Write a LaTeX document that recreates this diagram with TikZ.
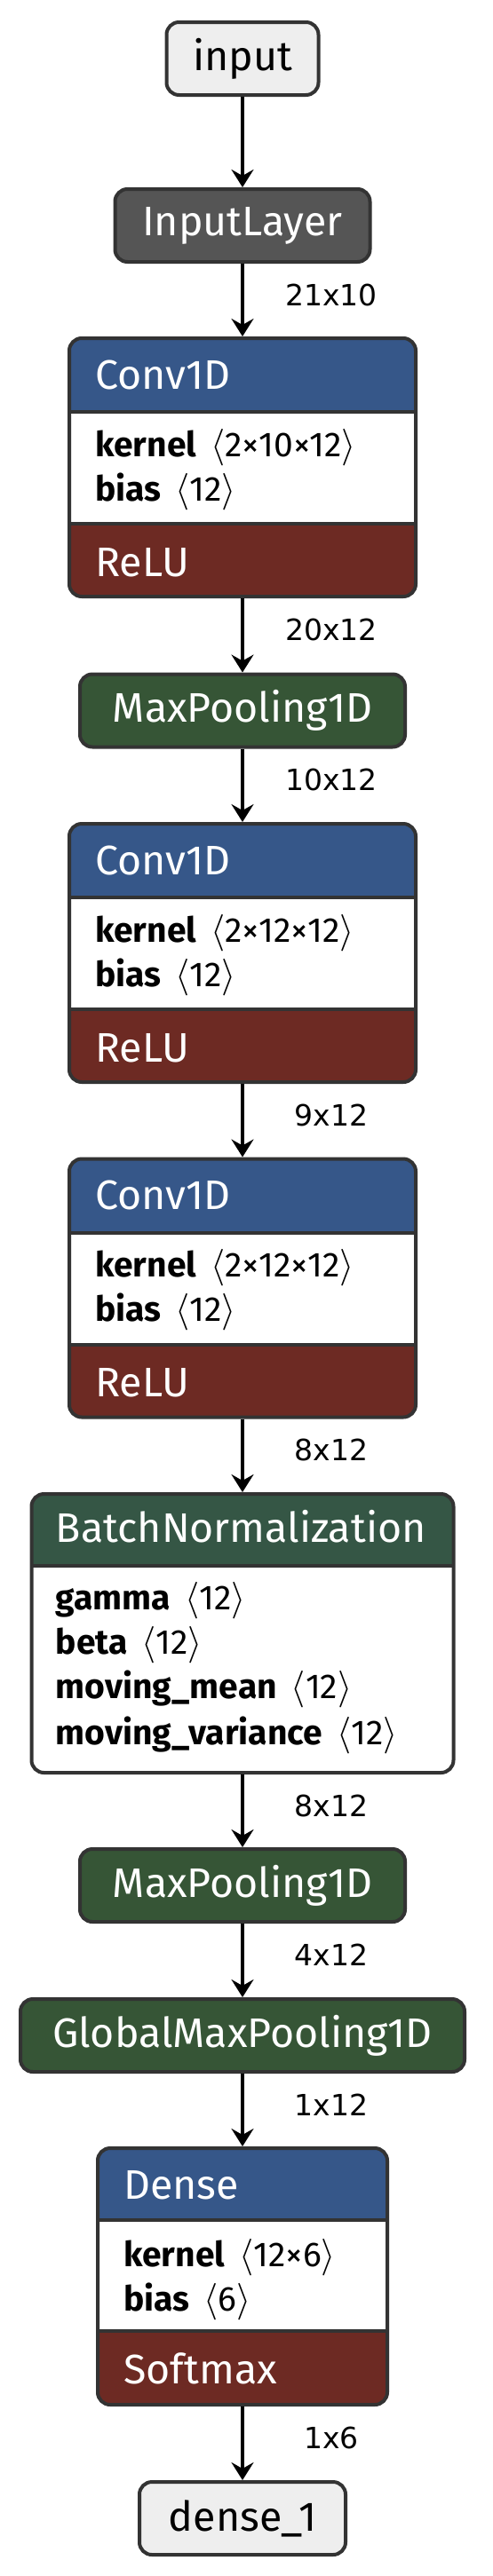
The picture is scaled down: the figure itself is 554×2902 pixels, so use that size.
\documentclass[tikz,border=0pt]{standalone}
\usepackage{fontspec}
\setmainfont{Fira Sans}
\newfontfamily\lblfont{DejaVu Sans}
\usetikzlibrary{arrows.meta,calc}
\definecolor{bordc}{HTML}{333333}
\definecolor{hblue}{HTML}{365789}
\definecolor{rred}{HTML}{6D2A23}
\definecolor{mpgreen}{HTML}{365536}
\definecolor{bngreen}{HTML}{355645}
\definecolor{ilgray}{HTML}{555555}
\definecolor{iogray}{HTML}{EEEEEE}
\newcommand\shp[1]{\hspace{8pt}$\langle$#1$\rangle$}
\tikzset{
  box/.style={draw=bordc, line width=2pt, rounded corners=7pt, inner sep=0pt},
  simple/.style={box, minimum height=41pt, font=\fontsize{23.25}{27}\selectfont},
  tri/.style n args={5}{box, fill=white, minimum width=#1, minimum height=#2,
    path picture={
      \begin{scope}[sharp corners]
      \fill[#5] (path picture bounding box.north west) rectangle ($(path picture bounding box.north east)+(0,#3)$);
      \fill[rred] ($(path picture bounding box.north west)+(0,#4)$) rectangle (path picture bounding box.south east);
      \draw[bordc, line width=2pt] ($(path picture bounding box.north west)+(0,#3)$) -- ($(path picture bounding box.north east)+(0,#3)$);
      \draw[bordc, line width=2pt] ($(path picture bounding box.north west)+(0,#4)$) -- ($(path picture bounding box.north east)+(0,#4)$);
      \end{scope}}},
  duo/.style n args={4}{box, fill=white, minimum width=#1, minimum height=#2,
    path picture={
      \begin{scope}[sharp corners]
      \fill[#4] (path picture bounding box.north west) rectangle ($(path picture bounding box.north east)+(0,#3)$);
      \draw[bordc, line width=2pt] ($(path picture bounding box.north west)+(0,#3)$) -- ($(path picture bounding box.north east)+(0,#3)$);
      \end{scope}}},
  hdrtext/.style={inner sep=0pt, anchor=base west, text=white, font=\fontsize{23.25}{27}\selectfont},
  bodytext/.style={inner sep=0pt, anchor=base west, text=black, font=\fontsize{19.5}{23}\selectfont},
  lbl/.style={inner sep=0pt, xshift=50pt, yshift=3pt, font=\lblfont\fontsize{16.5}{20}\selectfont},
  arr/.style={line width=2.25pt, -{Stealth[length=10pt, width=12.5pt, inset=3.5pt]}}
}
\newcommand\layertexts[6]{%
  \node[hdrtext] (#1-h) at ($(#1.north west)+(31,59)$) {#2};
  \node[bodytext] (#1-p1) at ($(#1.north west)+(31,135)$) {#3};
  \node[bodytext] (#1-p2) at ($(#1.north west)+(31,185)$) {#4};
  \node[hdrtext] (#1-a) at ($(#1.north west)+(31,#6)$) {#5};
}
\begin{document}
\begin{tikzpicture}[x=0.5pt, y=-0.5pt]
\useasboundingbox (0,0) rectangle (554,2902);

\node[simple, fill=iogray, minimum width=85.5pt, text=black] (in) at (273,66) {input};
\node[simple, fill=ilgray, minimum width=143.5pt, text=white] (il) at (273,254) {InputLayer};
\node[tri={195pt}{145.5pt}{83}{209}{hblue}] (conv1) at (273,526.5) {};
\node[simple, fill=mpgreen, minimum width=183pt, text=white] (mp1) at (273,800.5) {MaxPooling1D};
\node[tri={195pt}{145.5pt}{83}{209}{hblue}] (conv2) at (273,1073.5) {};
\node[tri={195pt}{145.5pt}{83}{209}{hblue}] (conv3) at (273,1451) {};
\node[duo={237.5pt}{157pt}{81}{bngreen}] (bn) at (273,1840) {};
\node[simple, fill=mpgreen, minimum width=183pt, text=white] (mp2) at (273,2124) {MaxPooling1D};
\node[simple, fill=mpgreen, minimum width=250pt, text=white] (gmp) at (273,2293) {GlobalMaxPooling1D};
\node[tri={163pt}{144.5pt}{81}{206}{hblue}] (dense) at (273,2564.5) {};
\node[simple, fill=iogray, minimum width=116pt, text=black] (out) at (273,2837) {dense\_1};

\layertexts{conv1}{Conv1D}{\textbf{kernel}\shp{2×10×12}}{\textbf{bias}\shp{12}}{ReLU}{270}
\layertexts{conv2}{Conv1D}{\textbf{kernel}\shp{2×12×12}}{\textbf{bias}\shp{12}}{ReLU}{270}
\layertexts{conv3}{Conv1D}{\textbf{kernel}\shp{2×12×12}}{\textbf{bias}\shp{12}}{ReLU}{270}
\layertexts{dense}{Dense}{\textbf{kernel}\shp{12×6}}{\textbf{bias}\shp{6}}{Softmax}{267}

\node[hdrtext] (bn-h) at ($(bn.north west)+(29,56)$) {BatchNormalization};
\node[bodytext] (bn-p1) at ($(bn.north west)+(29,132)$) {\textbf{gamma}\shp{12}};
\node[bodytext] (bn-p2) at ($(bn.north west)+(29,182)$) {\textbf{beta}\shp{12}};
\node[bodytext] (bn-p3) at ($(bn.north west)+(29,232)$) {\textbf{moving\_mean}\shp{12}};
\node[bodytext] (bn-p4) at ($(bn.north west)+(29,284)$) {\textbf{moving\_variance}\shp{12}};

\draw[arr] (in) -- (il);
\draw[arr] (il) -- node[lbl] (e1) {21x10} (conv1);
\draw[arr] (conv1) -- node[lbl] (e2) {20x12} (mp1);
\draw[arr] (mp1) -- node[lbl] (e3) {10x12} (conv2);
\draw[arr] (conv2) -- node[lbl] (e4) {9x12} (conv3);
\draw[arr] (conv3) -- node[lbl] (e5) {8x12} (bn);
\draw[arr] (bn) -- node[lbl] (e6) {8x12} (mp2);
\draw[arr] (mp2) -- node[lbl] (e7) {4x12} (gmp);
\draw[arr] (gmp) -- node[lbl] (e8) {1x12} (dense);
\draw[arr] (dense) -- node[lbl] (e9) {1x6} (out);
\end{tikzpicture}
\end{document}
